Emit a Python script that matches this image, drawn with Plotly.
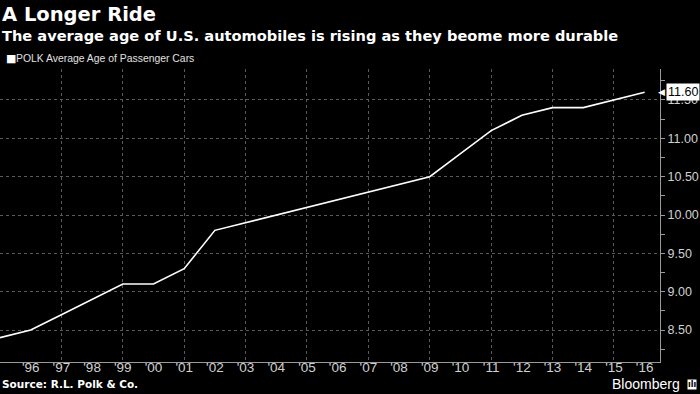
import plotly.graph_objects as go

years = list(range(1995, 2017))
avg_age = [8.4, 8.5, 8.7, 8.9, 9.1, 9.1, 9.3, 9.8, 9.9, 10.0, 10.1, 10.2,
           10.3, 10.4, 10.5, 10.8, 11.1, 11.3, 11.4, 11.4, 11.5, 11.6]
tick_years = list(range(1996, 2017))
tick_labels = ["'" + str(y)[-2:] for y in tick_years]
y_ticks = [8.5, 9.0, 9.5, 10.0, 10.5, 11.0, 11.5]
series_name = "POLK Average Age of Passenger Cars"
title = "A Longer Ride"
subtitle = "The average age of U.S. automobiles is rising as they beome more durable"
source = "Source: R.L. Polk & Co."

W, H = 700, 394
L, R, T, B = 0, 40, 69, 32
PH = H - T - B
PW = W - L - R

def py(p):
    return (H - B - p) / PH

def px(p):
    return (p - L) / PW

FONT = "DejaVu Sans"
TFONT = "Liberation Sans"

fig = go.Figure()
fig.add_trace(go.Scatter(x=years, y=avg_age, mode="lines", name=series_name,
                         line=dict(color="white", width=1.6),
                         showlegend=False))

fig.update_layout(
    width=W, height=H,
    margin=dict(l=L, r=R, t=T, b=B, autoexpand=False),
    paper_bgcolor="black", plot_bgcolor="black",
    font=dict(family=FONT, color="#d0d0d0", size=12),
    showlegend=False,
    xaxis=dict(range=[1995, 2016.5], tickmode="array", tickvals=tick_years,
               ticktext=tick_labels, showgrid=False, zeroline=False,
               automargin=False, ticklabelstandoff=-7,
               showline=True, linecolor="#9a9a9a", linewidth=1,
               ticks="", tickfont=dict(size=13.5, color="#d0d0d0", family=TFONT),
               minor=dict(tick0=1997, dtick=2, showgrid=True,
                          gridcolor="#5a5a5a", griddash="dot", gridwidth=1,
                          ticks="")),
    yaxis=dict(range=[8.083, 11.904], side="right", tickmode="array",
               tickvals=y_ticks, tickformat=".2f", showgrid=True,
               gridcolor="#5a5a5a", griddash="dot", gridwidth=1,
               automargin=False,
               zeroline=False, showline=True, linecolor="#9a9a9a",
               linewidth=1, ticks="outside", ticklen=4, tickcolor="#9a9a9a",
               tickfont=dict(size=12.5, color="#d0d0d0", family=TFONT),
               minor=dict(dtick=0.25, tick0=8.25, ticks="outside", ticklen=4,
                          tickcolor="#9a9a9a", showgrid=False)),
)

fig.add_annotation(text="<b>" + title + "</b>", xref="paper", yref="paper",
                   x=px(0), y=py(14), xanchor="left", yanchor="middle",
                   showarrow=False, font=dict(size=19.5, color="white", family=FONT))
fig.add_annotation(text="<b>" + subtitle + "</b>", xref="paper", yref="paper",
                   x=px(0), y=py(35), xanchor="left", yanchor="middle",
                   showarrow=False, font=dict(size=14.6, color="white", family=FONT))
# legend (square marker + series name)
fig.add_annotation(text="■", xref="paper", yref="paper",
                   x=px(4), y=py(58), xanchor="left", yanchor="middle",
                   showarrow=False, font=dict(size=11, color="white", family=FONT))
fig.add_annotation(text=series_name, xref="paper", yref="paper",
                   x=px(14), y=py(58), xanchor="left", yanchor="middle",
                   showarrow=False, font=dict(size=10.4, color="#e0e0e0", family=TFONT))
fig.add_annotation(text="<b>" + source + "</b>", xref="paper", yref="paper",
                   x=px(0), y=py(384), xanchor="left", yanchor="middle",
                   showarrow=False, font=dict(size=10.5, color="white", family=FONT))
fig.add_annotation(text="Bloomberg", xref="paper", yref="paper",
                   x=px(682), y=py(384), xanchor="right", yanchor="middle",
                   showarrow=False, font=dict(size=14, color="white", family=TFONT))
fig.add_annotation(text="<b>ılı</b>", xref="paper", yref="paper",
                   x=px(692), y=py(384), xanchor="center", yanchor="middle",
                   showarrow=False, bgcolor="white", borderpad=0,
                   font=dict(size=8, color="black", family=FONT))
# end-value label
fig.add_annotation(text="◀", xref="paper", yref="y",
                   x=px(667), y=avg_age[-1], xanchor="right", yanchor="middle",
                   showarrow=False, font=dict(size=9, color="white", family=FONT))
fig.add_annotation(text=f"{avg_age[-1]:.2f}", xref="paper", yref="y",
                   x=px(666), y=avg_age[-1], xanchor="left", yanchor="middle",
                   showarrow=False, bgcolor="white", borderpad=1,
                   font=dict(size=12.5, color="black", family=TFONT))

fig.write_html("out.html", config={"displayModeBar": False},
               post_script="document.body.style.margin='0';document.body.style.overflow='hidden';")
